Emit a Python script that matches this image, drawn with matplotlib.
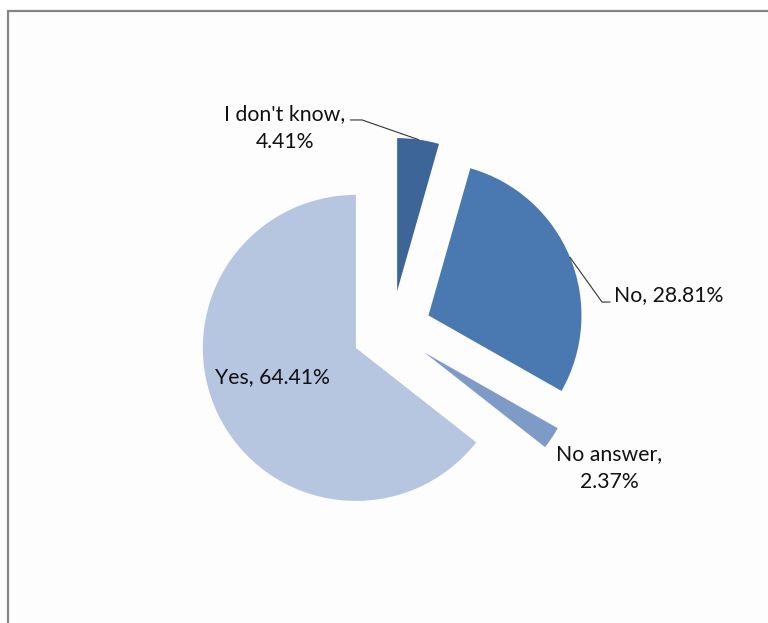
import numpy as np
import matplotlib.pyplot as plt
from matplotlib.patches import Rectangle

labels = ["Yes", "No answer", "No", "I don't know"]
shares = [64.41, 2.37, 28.81, 4.41]
colours = ["#B6C5E0", "#7E9BC8", "#4A79B1", "#3D6597"]
explode = [0.26, 0.26, 0.26, 0.26]

plt.rcParams['font.family'] = ['Lato', 'DejaVu Sans']

fig = plt.figure(figsize=(7.68, 6.23), dpi=100)
fig.patch.set_facecolor('white')

# chart area frame, kept behind the axes
frame = Rectangle((7.5 / 768, -0.1), 1.2, (623 - 11.5) / 623 + 0.1,
                  transform=fig.transFigure, facecolor='#FDFDFD',
                  edgecolor='#858585', linewidth=1.6, zorder=-5)
fig.patches.append(frame)

ax = fig.add_axes([0.2111, 0.1011, 0.5977, 0.7368])
ax.set_zorder(1)
ax.patch.set_visible(False)

wedges, _ = ax.pie(shares, colors=colours, explode=explode, startangle=90,
                   counterclock=True, radius=1.0,
                   wedgeprops=dict(linewidth=0))
ax.set_xlim(-1.5, 1.5)
ax.set_ylim(-1.5, 1.5)
ax.axis('off')

# arc midpoint of each exploded wedge, used as leader line anchor
fracs = np.array(shares) / sum(shares)
ends = 90 + 360 * np.cumsum(fracs)
starts = ends - 360 * fracs
mids = np.radians((starts + ends) / 2)
anchor = {lab: ((1 + e) * np.cos(m), (1 + e) * np.sin(m))
          for lab, e, m in zip(labels, explode, mids)}

def label_text(i):
    return f"{labels[i]},\n{shares[i]:.2f}%"

fs = 15.3
tc = '#111111'
# Yes inside its slice
ax.text(-0.781, -0.304, f"{labels[0]}, {shares[0]:.2f}%", ha='center', va='center',
        fontsize=fs, color=tc)
# No answer, no leader
ax.text(1.421, -0.899, label_text(1), ha='center', va='center', fontsize=fs,
        color=tc, linespacing=1.45)
# No with leader
ax.text(1.455, 0.232, f"{labels[2]}, {shares[2]:.2f}%", ha='left', va='center',
        fontsize=fs, color=tc)
ax_, ay_ = anchor["No"]
ax.plot([ax_, 1.375, 1.427], [ay_, 0.186, 0.186], color='#333333', lw=0.8,
        clip_on=False)
# I don't know with leader
ax.text(-0.697, 1.324, label_text(3), ha='center', va='center', fontsize=fs,
        color=tc, linespacing=1.45)
bx, by = anchor["I don't know"]
ax.plot([-0.268, -0.193, bx], [1.376, 1.376, by], color='#333333', lw=0.8,
        clip_on=False)

fig.savefig("out.png", dpi=100, facecolor='white')
